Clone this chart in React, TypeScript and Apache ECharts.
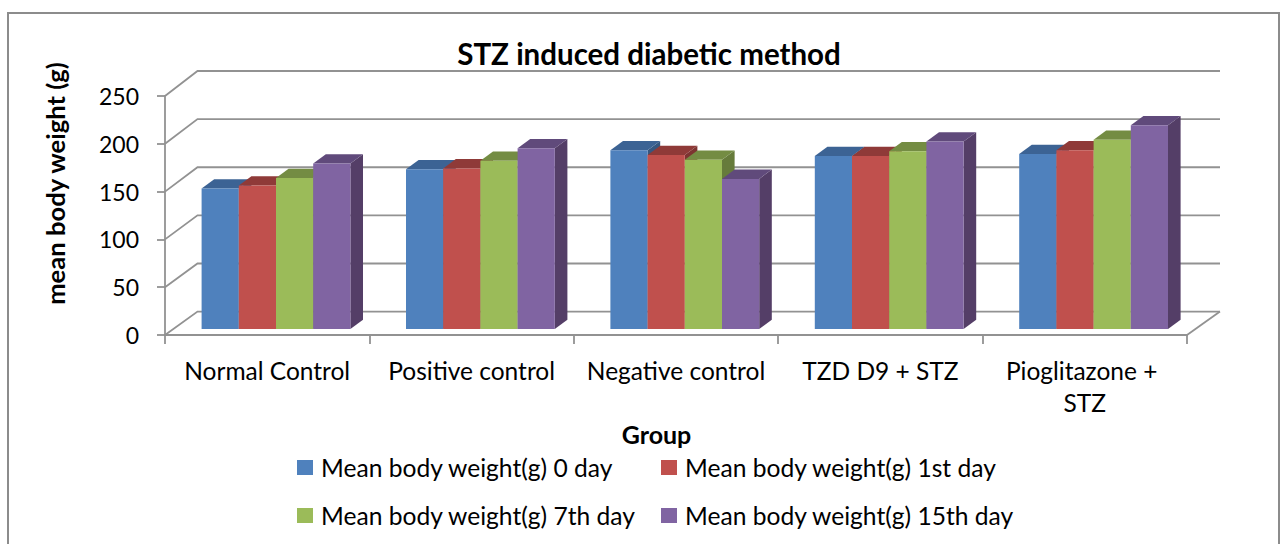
import React, { useEffect, useRef } from "react";
import * as echarts from "echarts";

const categories = ["Normal Control", "Positive control", "Negative control", "TZD D9 + STZ", "Pioglitazone + STZ"];
const seriesNames = [
  "Mean body weight(g) 0 day",
  "Mean body weight(g) 1st day",
  "Mean body weight(g) 7th day",
  "Mean body weight(g) 15th day",
];
const day0 = [147, 167, 187, 181, 183];
const day1 = [150, 168, 182, 181, 187];
const day7 = [158, 176, 177, 186, 198];
const day15 = [173, 189, 157, 196, 213];
const yTicks = [0, 50, 100, 150, 200, 250];

const frontColors = ["#4F81BD", "#C0504D", "#9BBB59", "#8064A2"];
const topColors = ["#3C6394", "#8F3A38", "#748C43", "#604A7B"];
const sideColors = ["#355780", "#7D3331", "#667B3B", "#543E67"];
const FONT = "Lato";
const GREY = "#929292";

export default function App() {
  const ref = useRef<HTMLDivElement>(null);
  useEffect(() => {
    document.body.style.margin = "0";
    const chart = echarts.init(ref.current!, undefined, { renderer: "svg" });
    const allValues = [day0, day1, day7, day15];
    const wall = {
      type: "custom",
      silent: true,
      z: 1,
      legendHoverLink: false,
      data: yTicks.map((v) => [0, v]),
      renderItem: (params: any, api: any) => {
        const cs = params.coordSys;
        const v = api.value(1);
        const y = api.coord([0, v])[1];
        const dy = 23.4 + v * 0.0064;
        const style = { stroke: GREY, lineWidth: 1.8, fill: "none" };
        const children: any[] = [
          {
            type: "polyline",
            shape: { points: [[cs.x, y], [cs.x + 32.5, y - dy], [cs.x + cs.width + 33, y - dy]] },
            style,
          },
        ];
        if (v === 0) {
          children.push({
            type: "line",
            shape: { x1: cs.x + cs.width, y1: y, x2: cs.x + cs.width + 33, y2: y - dy },
            style,
          });
        }
        return { type: "group", children };
      },
    };
    const bars = allValues.map((values, k) => ({
      type: "custom",
      name: seriesNames[k],
      z: 3,
      itemStyle: { color: frontColors[k] },
      data: values.map((v, i) => [i, v]),
      encode: { x: 0, y: 1 },
      renderItem: (_p: any, api: any) => {
        const i = api.value(0);
        const top = api.coord([i, api.value(1)]);
        const base = api.coord([i, 0]);
        const w = api.size([1, 0])[0] * 0.182;
        const x = top[0] + 8.8 + (k - 2) * w;
        const yt = top[1] - 6;
        const yb = base[1] - 6;
        const dx = 12.6;
        const dy = 9.3;
        return {
          type: "group",
          children: [
            {
              type: "polygon",
              shape: { points: [[x + w, yt], [x + w + dx, yt - dy], [x + w + dx, yb - dy], [x + w, yb]] },
              style: { fill: sideColors[k] },
            },
            {
              type: "polygon",
              shape: { points: [[x, yt], [x + dx, yt - dy], [x + w + dx, yt - dy], [x + w, yt]] },
              style: { fill: topColors[k] },
            },
            {
              type: "rect",
              shape: { x, y: yt, width: w, height: yb - yt },
              style: { fill: frontColors[k] },
            },
          ],
        };
      },
    }));
    const legendBase = {
      orient: "vertical",
      icon: "rect",
      padding: 0,
      itemWidth: 16,
      itemHeight: 15,
      itemGap: 23,
      selectedMode: false,
      textStyle: { fontFamily: FONT, fontSize: 24.6, color: "#000", padding: [0, 0, 0, 3] },
    };
    chart.setOption({
      animation: false,
      backgroundColor: "#fff",
      graphic: [
        {
          type: "rect",
          shape: { x: 8, y: 13, width: 1271, height: 560 },
          style: { fill: "none", stroke: "#8c8c8c", lineWidth: 2 },
          silent: true,
        },
      ],
      title: {
        text: "STZ induced diabetic method",
        left: 649,
        top: 38,
        padding: 0,
        textAlign: "center",
        textStyle: { fontFamily: FONT, fontSize: 29.5, fontWeight: "bold", color: "#000" },
      },
      legend: [
        { ...legendBase, left: 297, top: 455, data: [seriesNames[0], seriesNames[2]] },
        { ...legendBase, left: 661, top: 455, data: [seriesNames[1], seriesNames[3]] },
      ],
      grid: { left: 165, right: 100, top: 96, bottom: 209, containLabel: false },
      xAxis: {
        type: "category",
        data: categories,
        name: "Group",
        nameLocation: "middle",
        nameGap: 86,
        nameTextStyle: { fontFamily: FONT, fontSize: 25, fontWeight: "bold", color: "#000", padding: [0, 39, 0, 0] },
        axisLine: { lineStyle: { color: GREY, width: 1.8 } },
        axisTick: { show: true, alignWithLabel: false, length: 9, lineStyle: { color: GREY, width: 1.8 } },
        axisLabel: {
          fontFamily: FONT,
          fontSize: 24.5,
          color: "#000",
          margin: 19,
          lineHeight: 32,
          width: 185,
          overflow: "break",
          interval: 0,
        },
        splitLine: { show: false },
      },
      yAxis: {
        type: "value",
        min: 0,
        max: 250,
        interval: 50,
        name: "mean body weight (g)",
        nameLocation: "middle",
        nameGap: 97,
        nameTextStyle: { fontFamily: FONT, fontSize: 25.6, fontWeight: "bold", color: "#000", padding: [0, 0, 0, 64] },
        axisLine: { show: true, lineStyle: { color: GREY, width: 1.8 } },
        axisTick: { show: true, length: 8, lineStyle: { color: GREY, width: 1.8 } },
        axisLabel: { fontFamily: FONT, fontSize: 23, color: "#000", margin: 26 },
        splitLine: { show: false },
      },
      series: [wall, ...bars],
    });
    return () => chart.dispose();
  }, []);
  return <div ref={ref} style={{ position: "absolute", left: 0, top: 0, width: 1287, height: 544 }} />;
}
